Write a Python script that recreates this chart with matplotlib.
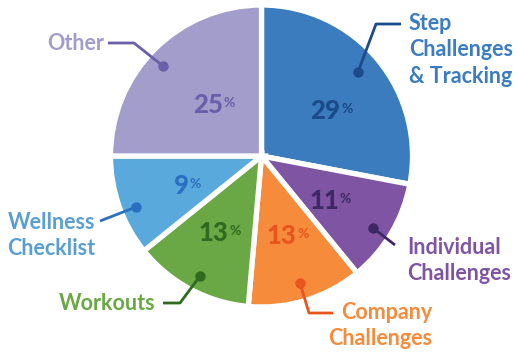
import matplotlib
matplotlib.use('Agg')
from matplotlib import pyplot as plt

plt.rcParams['font.family'] = ['Lato', 'DejaVu Sans']

categories = ['Step\nChallenges\n& Tracking', 'Individual\nChallenges', 'Company\nChallenges',
              'Workouts', 'Wellness\nChecklist', 'Other']
# printed percentages
shares = [29, 11, 13, 13, 9, 25]
# arc sizes as drawn in the picture (they don't quite match the printed numbers)
arc_sizes = [28.0, 11.1, 12.3, 12.8, 10.8, 25.0]

wedge_colors = ['#3a7cbd', '#7f55a3', '#f58b3b', '#6aa845', '#5aa9dd', '#a39dcc']
label_colors = ['#3b7dc0', '#7f55a3', '#f58b3b', '#6aa845', '#5a9fd4', '#a39dcc']
dark_colors = ['#1c4a8a', '#3d2866', '#e8541c', '#2f6b1f', '#2a6fc0', '#6a5fa8']

H = 352
cx, cy, rad = 261.5, H - 156, 151

fig = plt.figure(figsize=(5.18, 3.52), dpi=100)
ax = fig.add_axes([0, 0, 1, 1])

ax.pie(arc_sizes, colors=wedge_colors, startangle=90, counterclock=False,
       center=(cx, cy), radius=rad, frame=True,
       wedgeprops=dict(edgecolor='white', linewidth=3.8))
ax.set_xlim(0, 518)
ax.set_ylim(0, H)
ax.set_aspect('equal')
ax.axis('off')

# percentage anchors (pixel coords, y down): boundary between number and %
pct_pos = [(340, 111), (339, 201), (296, 236), (228, 233), (189, 186), (223, 105)]
for (px, py), v, c in zip(pct_pos, shares, dark_colors):
    ax.text(px, H - py, str(v), color=c, fontsize=18.5, fontweight='black',
            ha='right', va='center')
    ax.text(px + 1, H - py + 2, '%', color=c, fontsize=10, fontweight='bold',
            ha='left', va='center')

# leader lines: dot first, then path points
leaders = [
    [(358, 72), (376, 24), (401, 24)],
    [(373, 228), (395, 245)],
    [(300, 283), (309, 313), (333, 313)],
    [(200, 276), (180, 303), (163, 303)],
    [(136, 207), (100, 221)],
    [(163, 66), (134, 43), (108, 43)],
]
for pts, c in zip(leaders, dark_colors):
    xs = [p[0] for p in pts]
    ys = [H - p[1] for p in pts]
    ax.plot(xs, ys, color=c, lw=2, solid_capstyle='butt')
    ax.plot(xs[0], ys[0], 'o', color=c, ms=7.5, mec='none')

# outside labels
lab_pos = [(409, 50, 'left'), (407, 260.5, 'left'), (432, 325.5, 'right'),
           (155, 303, 'right'), (95, 235.5, 'right'), (104, 43, 'right')]
for (lx, ly, ha), txt, c in zip(lab_pos, categories, label_colors):
    ax.text(lx, H - ly, txt, color=c, fontsize=15.5, fontweight='bold',
            ha=ha, va='center', linespacing=1.34, multialignment=ha)

fig.savefig('out.png', dpi=100)
